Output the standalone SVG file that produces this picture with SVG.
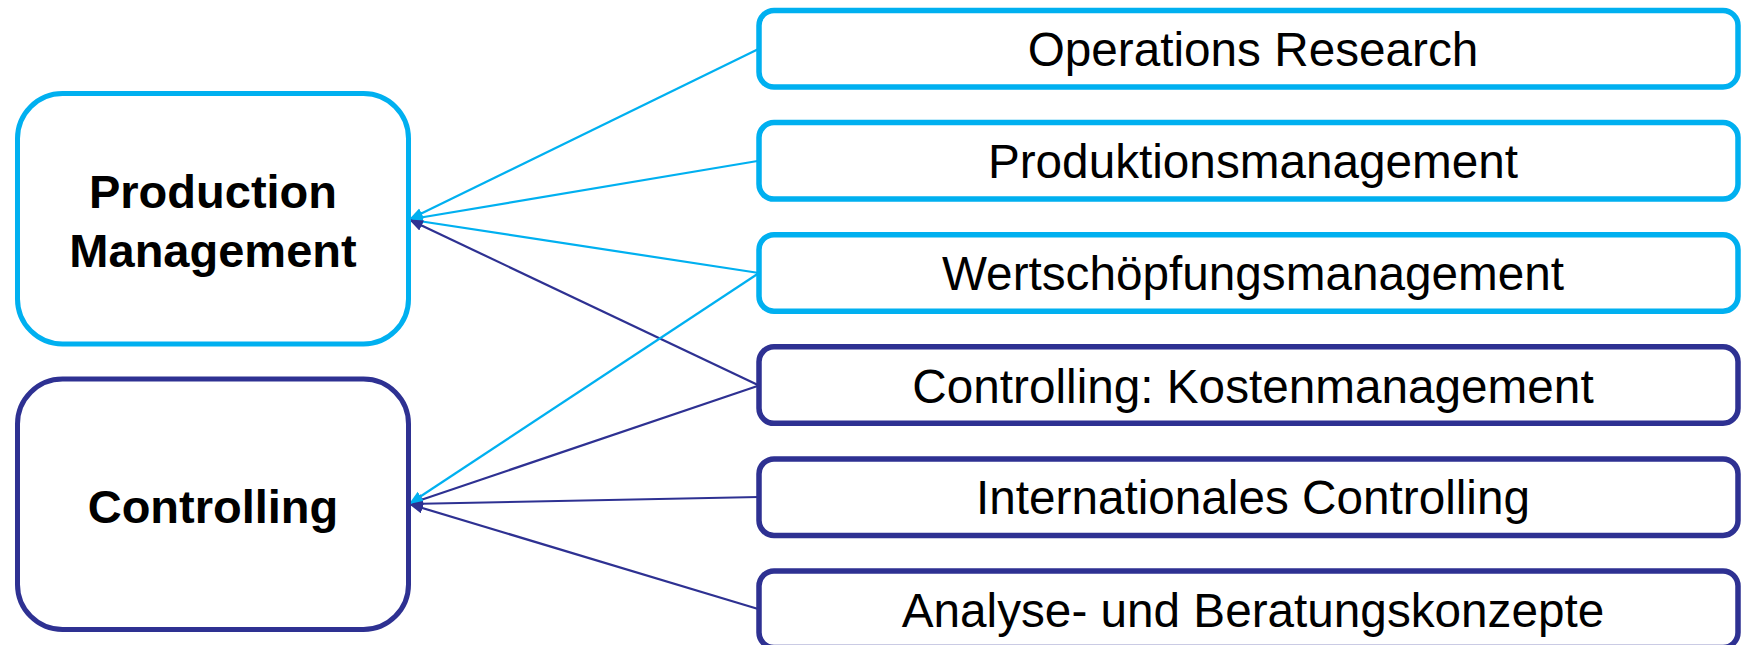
<svg xmlns="http://www.w3.org/2000/svg" width="1742" height="645" viewBox="0 0 1742 645">
<defs>
<style>
.bg{fill:#ffffff}
.main{fill:#ffffff;stroke-width:5}
.item{fill:#ffffff;stroke-width:5.5}
.lb{stroke:#00B0F0}
.db{stroke:#2E3192}
.title{font-family:"Liberation Sans",Arial,sans-serif;font-weight:bold;font-size:47px;fill:#000000;text-anchor:middle}
.label{font-family:"Liberation Sans",Arial,sans-serif;font-size:47.7px;fill:#000000;text-anchor:middle}
.conn{fill:none;stroke-width:2.2}
</style>
<marker id="arrLB" markerUnits="userSpaceOnUse" markerWidth="15" markerHeight="12" refX="14" refY="5.5" orient="auto">
<path d="M0,0 L14,5.5 L0,11 z" fill="#00B0F0"/>
</marker>
<marker id="arrDB" markerUnits="userSpaceOnUse" markerWidth="15" markerHeight="12" refX="14" refY="5.5" orient="auto">
<path d="M0,0 L14,5.5 L0,11 z" fill="#2E3192"/>
</marker>
</defs>
<rect class="bg" x="0" y="0" width="1742" height="645"/>

<g id="connectors">
<line class="conn lb" x1="759" y1="48.75" x2="409" y2="219.5" marker-end="url(#arrLB)"/>
<line class="conn lb" x1="759" y1="160.75" x2="409" y2="219.5" marker-end="url(#arrLB)"/>
<line class="conn lb" x1="759" y1="273" x2="409" y2="219.5" marker-end="url(#arrLB)"/>
<line class="conn db" x1="759" y1="385.5" x2="409" y2="219.5" marker-end="url(#arrDB)"/>
<line class="conn db" x1="759" y1="385.5" x2="409" y2="504" marker-end="url(#arrDB)"/>
<line class="conn db" x1="759" y1="497" x2="409" y2="504" marker-end="url(#arrDB)"/>
<line class="conn db" x1="759" y1="609.25" x2="409" y2="504" marker-end="url(#arrDB)"/>
<line class="conn lb" x1="759" y1="273" x2="409" y2="504" marker-end="url(#arrLB)"/>
</g>

<g id="node-production-management">
<rect class="main lb" x="17.5" y="93.5" width="391" height="250.5" rx="45" ry="45"/>
<text class="title" x="213" y="208.3">Production</text>
<text class="title" x="213" y="266.7">Management</text>
</g>

<g id="node-controlling">
<rect class="main db" x="17.5" y="379" width="391" height="250.5" rx="45" ry="45"/>
<text class="title" x="213" y="522.7">Controlling</text>
</g>

<g id="node-operations-research">
<rect class="item lb" x="759" y="10.5" width="979" height="76.5" rx="15" ry="15"/>
<text class="label" x="1253" y="66">Operations Research</text>
</g>

<g id="node-produktionsmanagement">
<rect class="item lb" x="759" y="122.6" width="979" height="76.5" rx="15" ry="15"/>
<text class="label" x="1253" y="178">Produktionsmanagement</text>
</g>

<g id="node-wertschoepfungsmanagement">
<rect class="item lb" x="759" y="234.7" width="979" height="76.5" rx="15" ry="15"/>
<text class="label" x="1253" y="290.3">Wertschöpfungsmanagement</text>
</g>

<g id="node-kostenmanagement">
<rect class="item db" x="759" y="346.8" width="979" height="76.5" rx="15" ry="15"/>
<text class="label" x="1253" y="402.8">Controlling: Kostenmanagement</text>
</g>

<g id="node-internationales-controlling">
<rect class="item db" x="759" y="458.9" width="979" height="76.5" rx="15" ry="15"/>
<text class="label" x="1253" y="514.3">Internationales Controlling</text>
</g>

<g id="node-analyse-beratung">
<rect class="item db" x="759" y="571" width="979" height="76.5" rx="15" ry="15"/>
<text class="label" x="1253" y="626.5">Analyse- und Beratungskonzepte</text>
</g>
</svg>
